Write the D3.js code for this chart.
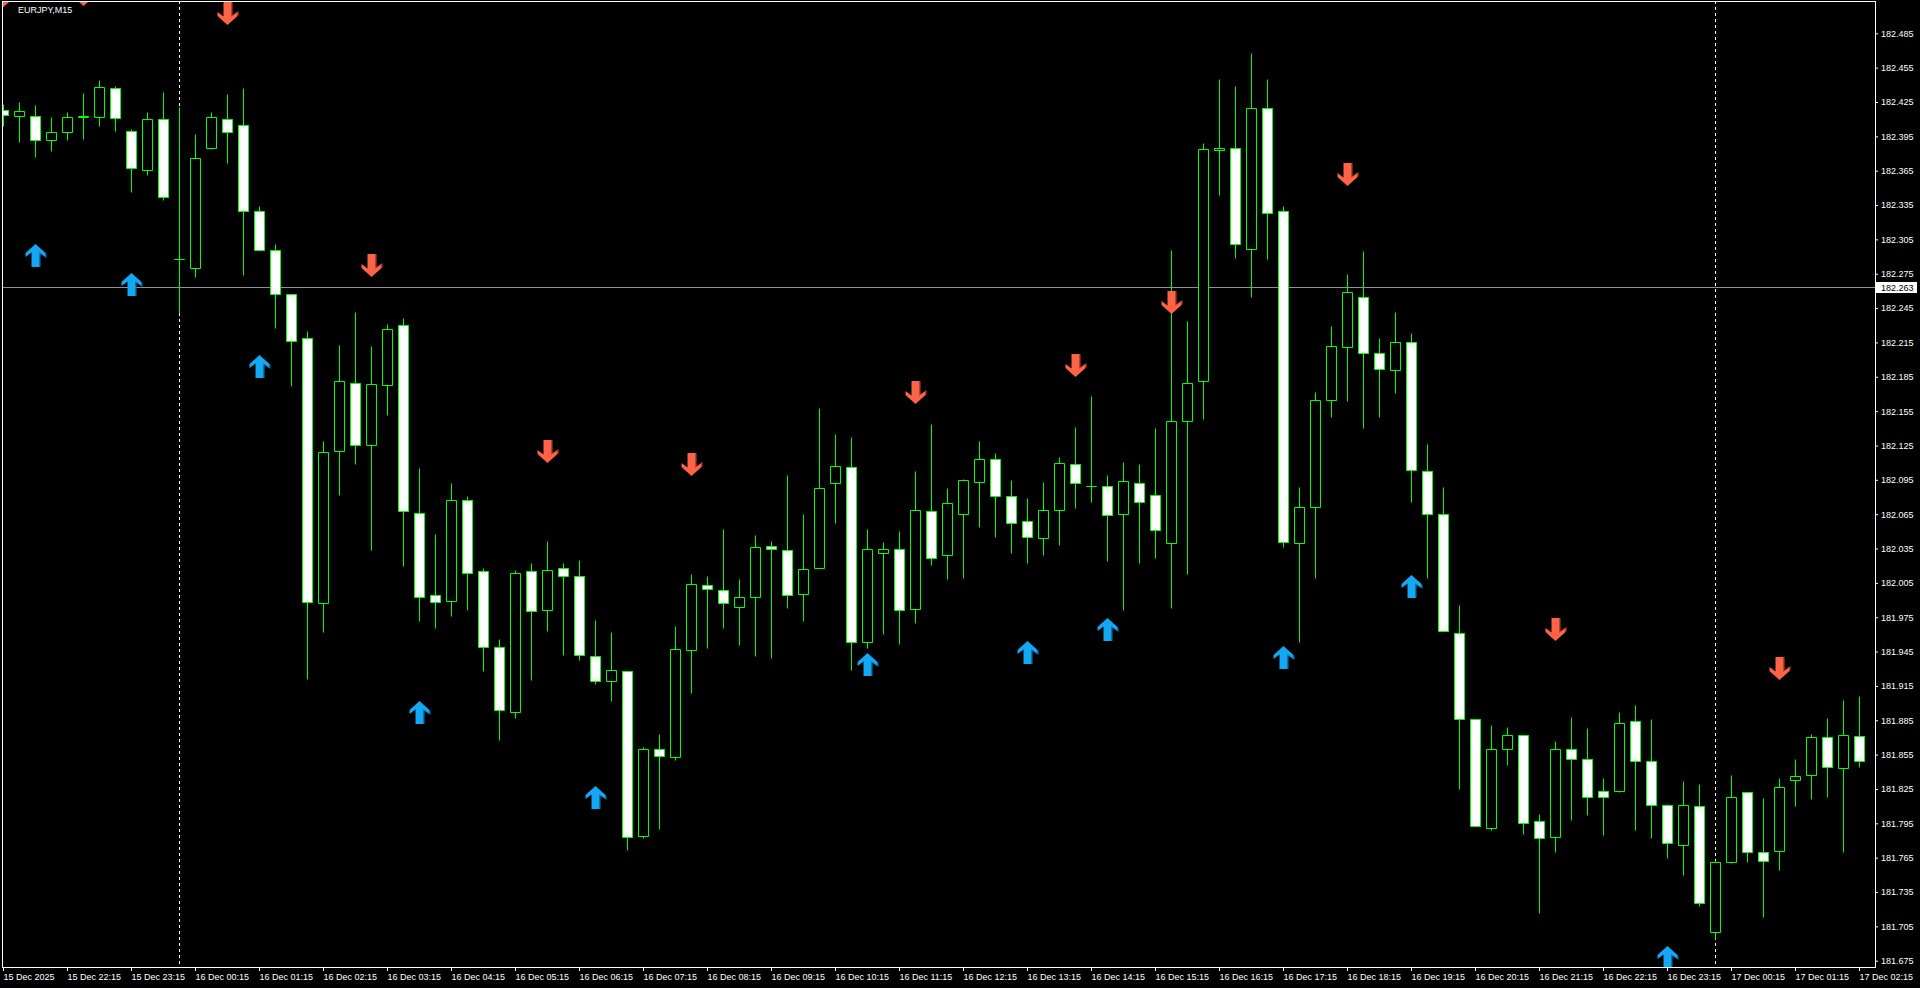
<!DOCTYPE html>
<html>
<head>
<meta charset="utf-8">
<script src="https://cdn.jsdelivr.net/npm/d3@7"></script>
<style>
  html, body { margin: 0; padding: 0; background: #000; overflow: hidden; }
  svg { display: block; }
</style>
</head>
<body>
<svg id="chart" width="1920" height="988"></svg>
<script>
// EURJPY M15, bars from 15 Dec 21:15 to 17 Dec 02:15
const opens = [
  182.418, 182.413, 182.413, 182.392, 182.399, 182.412, 182.412, 182.437, 182.400, 182.366,
  182.410, 182.288, 182.280, 182.385, 182.410, 182.405, 182.330, 182.296, 182.257, 182.219,
  181.987, 182.120, 182.180, 182.125, 182.178, 182.230, 182.066, 181.994, 181.989, 182.077,
  182.015, 181.949, 181.892, 182.015, 181.981, 182.018, 182.011, 181.941, 181.919, 181.928,
  181.784, 181.860, 181.853, 181.946, 182.003, 181.999, 181.984, 181.993, 182.037, 182.034,
  181.995, 182.018, 182.092, 182.106, 181.953, 182.031, 182.035, 181.982, 182.068, 182.029,
  182.065, 182.093, 182.113, 182.081, 182.059, 182.044, 182.069, 182.109, 182.090, 182.090,
  182.065, 182.092, 182.082, 182.040, 182.146, 182.181, 182.383, 182.385, 182.297, 182.420,
  182.330, 182.040, 182.071, 182.165, 182.211, 182.255, 182.206, 182.191, 182.215, 182.103,
  182.065, 181.961, 181.886, 181.791, 181.860, 181.872, 181.797, 181.783, 181.860, 181.851,
  181.823, 181.823, 181.884, 181.849, 181.811, 181.776, 181.810, 181.700, 181.761, 181.822,
  181.770, 181.771, 181.833, 181.837, 181.870, 181.843, 181.871
];
const highs = [
  182.423, 182.425, 182.422, 182.412, 182.416, 182.433, 182.444, 182.439, 182.401, 182.416,
  182.434, 182.421, 182.397, 182.416, 182.432, 182.437, 182.334, 182.301, 182.257, 182.225,
  182.129, 182.213, 182.242, 182.212, 182.231, 182.236, 182.105, 182.048, 182.092, 182.081,
  182.018, 181.956, 182.016, 182.022, 182.042, 182.022, 182.025, 181.973, 181.962, 181.928,
  181.862, 181.873, 181.967, 182.013, 182.011, 182.052, 182.008, 182.047, 182.042, 182.099,
  182.065, 182.158, 182.135, 182.132, 182.052, 182.041, 182.050, 182.103, 182.144, 182.088,
  182.096, 182.129, 182.118, 182.095, 182.079, 182.093, 182.115, 182.141, 182.168, 182.099,
  182.111, 182.109, 182.140, 182.296, 182.234, 182.389, 182.445, 182.439, 182.468, 182.445,
  182.334, 182.089, 182.172, 182.229, 182.275, 182.295, 182.219, 182.242, 182.223, 182.126,
  182.089, 181.986, 181.886, 181.881, 181.879, 181.872, 181.803, 181.867, 181.888, 181.878,
  181.835, 181.892, 181.898, 181.886, 181.812, 181.832, 181.829, 181.763, 181.837, 181.822,
  181.817, 181.835, 181.851, 181.873, 181.887, 181.903, 181.906
];
const lows = [
  182.404, 182.390, 182.377, 182.382, 182.392, 182.393, 182.404, 182.400, 182.346, 182.361,
  182.339, 182.241, 182.272, 182.384, 182.372, 182.274, 182.296, 182.228, 182.177, 181.921,
  181.962, 182.082, 182.109, 182.034, 182.152, 182.020, 181.972, 181.966, 181.976, 181.981,
  181.928, 181.868, 181.887, 181.920, 181.963, 181.942, 181.938, 181.917, 181.902, 181.772,
  181.782, 181.790, 181.850, 181.909, 181.948, 181.966, 181.951, 181.941, 181.939, 181.983,
  181.972, 182.018, 182.057, 181.929, 181.948, 181.960, 181.952, 181.970, 182.021, 182.008,
  182.009, 182.054, 182.045, 182.031, 182.022, 182.029, 182.038, 182.070, 182.076, 182.024,
  181.981, 182.022, 182.027, 181.983, 182.013, 182.148, 182.344, 182.289, 182.255, 182.288,
  182.036, 181.953, 182.009, 182.150, 182.164, 182.140, 182.150, 182.171, 182.076, 182.009,
  181.963, 181.825, 181.793, 181.789, 181.846, 181.786, 181.717, 181.770, 181.798, 181.802,
  181.785, 181.822, 181.789, 181.782, 181.765, 181.750, 181.723, 181.694, 181.760, 181.761,
  181.713, 181.754, 181.810, 181.816, 181.818, 181.770, 181.844
];
const closes = [
  182.414, 182.417, 182.392, 182.399, 182.412, 182.413, 182.438, 182.411, 182.367, 182.410,
  182.342, 182.288, 182.376, 182.412, 182.399, 182.330, 182.296, 182.257, 182.216, 181.988,
  182.119, 182.181, 182.125, 182.179, 182.227, 182.068, 181.993, 181.988, 182.077, 182.014,
  181.949, 181.894, 182.014, 181.980, 182.016, 182.011, 181.942, 181.919, 181.929, 181.783,
  181.860, 181.854, 181.947, 182.004, 182.000, 181.987, 181.993, 182.036, 182.035, 181.994,
  182.017, 182.088, 182.107, 181.953, 182.035, 182.035, 181.981, 182.069, 182.027, 182.075,
  182.095, 182.113, 182.081, 182.057, 182.045, 182.069, 182.110, 182.092, 182.090, 182.064,
  182.094, 182.076, 182.051, 182.146, 182.180, 182.384, 182.385, 182.301, 182.420, 182.328,
  182.041, 182.071, 182.165, 182.212, 182.259, 182.206, 182.192, 182.215, 182.104, 182.065,
  181.963, 181.886, 181.793, 181.860, 181.872, 181.795, 181.782, 181.860, 181.851, 181.818,
  181.818, 181.883, 181.849, 181.811, 181.778, 181.811, 181.725, 181.761, 181.818, 181.770,
  181.762, 181.827, 181.836, 181.870, 181.844, 181.872, 181.849
];

// signal arrows (bar index and price of the arrow tip)
const upBars = [2, 8, 16, 26, 37, 54, 64, 69, 80, 88, 104];
const upPrices = [182.301, 182.276, 182.204, 181.902, 181.828, 181.944, 181.954, 181.974, 181.950, 182.012, 181.688];
const downBars = [0, 5, 14, 23, 34, 43, 57, 67, 73, 84, 97, 111];
const downPrices = [182.508, 182.509, 182.492, 182.272, 182.110, 182.098, 182.161, 182.185, 182.240, 182.352, 181.954, 181.920];

// day separators (bars at 00:00)
const separatorBars = [11, 107];
const bidPrice = 182.263;

// x labels, one every 4 bars starting at bar 0
const xLabels = [
  "15 Dec 2025", "15 Dec 22:15", "15 Dec 23:15",
  "16 Dec 00:15", "16 Dec 01:15", "16 Dec 02:15", "16 Dec 03:15", "16 Dec 04:15", "16 Dec 05:15",
  "16 Dec 06:15", "16 Dec 07:15", "16 Dec 08:15", "16 Dec 09:15", "16 Dec 10:15", "16 Dec 11:15",
  "16 Dec 12:15", "16 Dec 13:15", "16 Dec 14:15", "16 Dec 15:15", "16 Dec 16:15", "16 Dec 17:15",
  "16 Dec 18:15", "16 Dec 19:15", "16 Dec 20:15", "16 Dec 21:15", "16 Dec 22:15", "16 Dec 23:15",
  "17 Dec 00:15", "17 Dec 01:15", "17 Dec 02:15"
];
const yTicks = [
  181.675, 181.705, 181.735, 181.765, 181.795, 181.825, 181.855, 181.885, 181.915, 181.945,
  181.975, 182.005, 182.035, 182.065, 182.095, 182.125, 182.155, 182.185, 182.215, 182.245,
  182.275, 182.305, 182.335, 182.365, 182.395, 182.425, 182.455, 182.485
];

const upColor = '#12a8f4';
const upShade = '#0a78b8';
const downColor = '#ff6347';
const downShade = '#c8442e';
const candleColor = '#00ff00';
const font = "'Liberation Sans', Arial, sans-serif";

// plot frame
const plotLeft = 2, plotTop = 1, plotRight = 1875, plotBottom = 967;

const svg = d3.select('#chart');
svg.append('rect').attr('width', 1920).attr('height', 988).attr('fill', '#000');

const xScale = d3.scaleLinear().domain([0, opens.length - 1]).range([3, 1859]);
const yScale = d3.scaleLinear().domain([181.675, 182.485]).range([960.7, 33.3]);
const px = (i) => xScale(i) + 0.5;
const py = (v) => Math.round(yScale(v)) + 0.5;

svg.append('clipPath').attr('id', 'plotClip')
  .append('rect')
  .attr('x', plotLeft + 1).attr('y', plotTop + 1)
  .attr('width', plotRight - plotLeft - 1).attr('height', plotBottom - plotTop - 1);

const plot = svg.append('g').attr('clip-path', 'url(#plotClip)');

// bid line
plot.append('line')
  .attr('x1', plotLeft).attr('x2', plotRight)
  .attr('y1', py(bidPrice)).attr('y2', py(bidPrice))
  .attr('stroke', '#8c929c').attr('stroke-width', 1);

// day separators
plot.selectAll('line.sep')
  .data(separatorBars)
  .enter()
  .append('line')
  .attr('class', 'sep')
  .attr('x1', (d) => px(d)).attr('x2', (d) => px(d))
  .attr('y1', plotTop).attr('y2', plotBottom)
  .attr('stroke', '#fff')
  .attr('stroke-dasharray', '3,3');

// candles
const bars = opens.map((o, i) => ({ i, o, h: highs[i], l: lows[i], c: closes[i] }));

const candles = plot.selectAll('g.candle')
  .data(bars)
  .enter()
  .append('g')
  .attr('class', 'candle');

candles.append('line')
  .attr('x1', (d) => px(d.i)).attr('x2', (d) => px(d.i))
  .attr('y1', (d) => py(d.h)).attr('y2', (d) => py(d.l))
  .attr('stroke', candleColor);

candles.append('path')
  .attr('d', (d) => {
    const x0 = px(d.i) - 5;
    const top = py(Math.max(d.o, d.c));
    const bot = py(Math.min(d.o, d.c));
    return `M${x0},${top}H${x0 + 10}V${bot}H${x0}Z`;
  })
  .attr('fill', (d) => d.c < d.o ? '#fff' : '#000')
  .attr('stroke', candleColor);

// arrows: tip at (0,0) pointing up, with a darker right edge
const arrowPath = 'M0,0L10,9L10,13L4,8.5L4,23L-4,23L-4,8.5L-10,13L-10,9Z';
const shadePath = 'M4,8.5L10,13L10,9L11,10L11,14L5,10L5,23L4,23Z';

function drawArrows(cls, barsIdx, prices, flip, color, shade) {
  const g = plot.selectAll(`g.${cls}`)
    .data(barsIdx.map((b, k) => ({ b, p: prices[k] })))
    .enter()
    .append('g')
    .attr('class', cls)
    .attr('transform', (d) => `translate(${px(d.b)},${Math.round(yScale(d.p))})` + (flip ? ' scale(1,-1)' : ''));
  g.append('path').attr('d', shadePath).attr('fill', shade);
  g.append('path').attr('d', arrowPath).attr('fill', color);
}
drawArrows('up', upBars, upPrices, false, upColor, upShade);
drawArrows('down', downBars, downPrices, true, downColor, downShade);

// frame
svg.append('rect')
  .attr('x', plotLeft + 0.5).attr('y', plotTop + 0.5)
  .attr('width', plotRight - plotLeft).attr('height', plotBottom - plotTop)
  .attr('fill', 'none')
  .attr('stroke', '#fff');

// y axis
const yAxis = svg.append('g')
  .attr('transform', `translate(${plotRight}, 0)`)
  .call(d3.axisRight(yScale)
    .tickValues(yTicks)
    .tickSize(3)
    .tickSizeOuter(0)
    .tickFormat(d3.format('.3f')));
yAxis.select('.domain').remove();

// x axis
const xAxis = svg.append('g')
  .attr('transform', `translate(0, ${plotBottom})`)
  .call(d3.axisBottom(xScale)
    .tickValues(xLabels.map((_, k) => k * 4))
    .tickSize(4)
    .tickSizeOuter(0)
    .tickFormat((d, k) => xLabels[k]));
xAxis.select('.domain').remove();
xAxis.selectAll('text').attr('text-anchor', 'start').attr('x', 0);

svg.selectAll('.tick line').attr('stroke', '#fff');
svg.selectAll('.tick text')
  .attr('fill', '#fff')
  .style('font-family', font)
  .style('font-size', '9px');

// bid label
const bidY = py(bidPrice);
svg.append('rect')
  .attr('x', 1876).attr('y', bidY - 5.5)
  .attr('width', 41).attr('height', 11)
  .attr('fill', '#fff');
svg.append('text')
  .attr('x', 1881).attr('y', bidY + 3)
  .attr('fill', '#000')
  .style('font-family', font)
  .style('font-size', '9px')
  .text(bidPrice.toFixed(3));

// title
svg.append('text')
  .attr('x', 18).attr('y', 13)
  .attr('fill', '#fff')
  .style('font-family', font)
  .style('font-size', '9px')
  .text('EURJPY,M15');
</script>
</body>
</html>
